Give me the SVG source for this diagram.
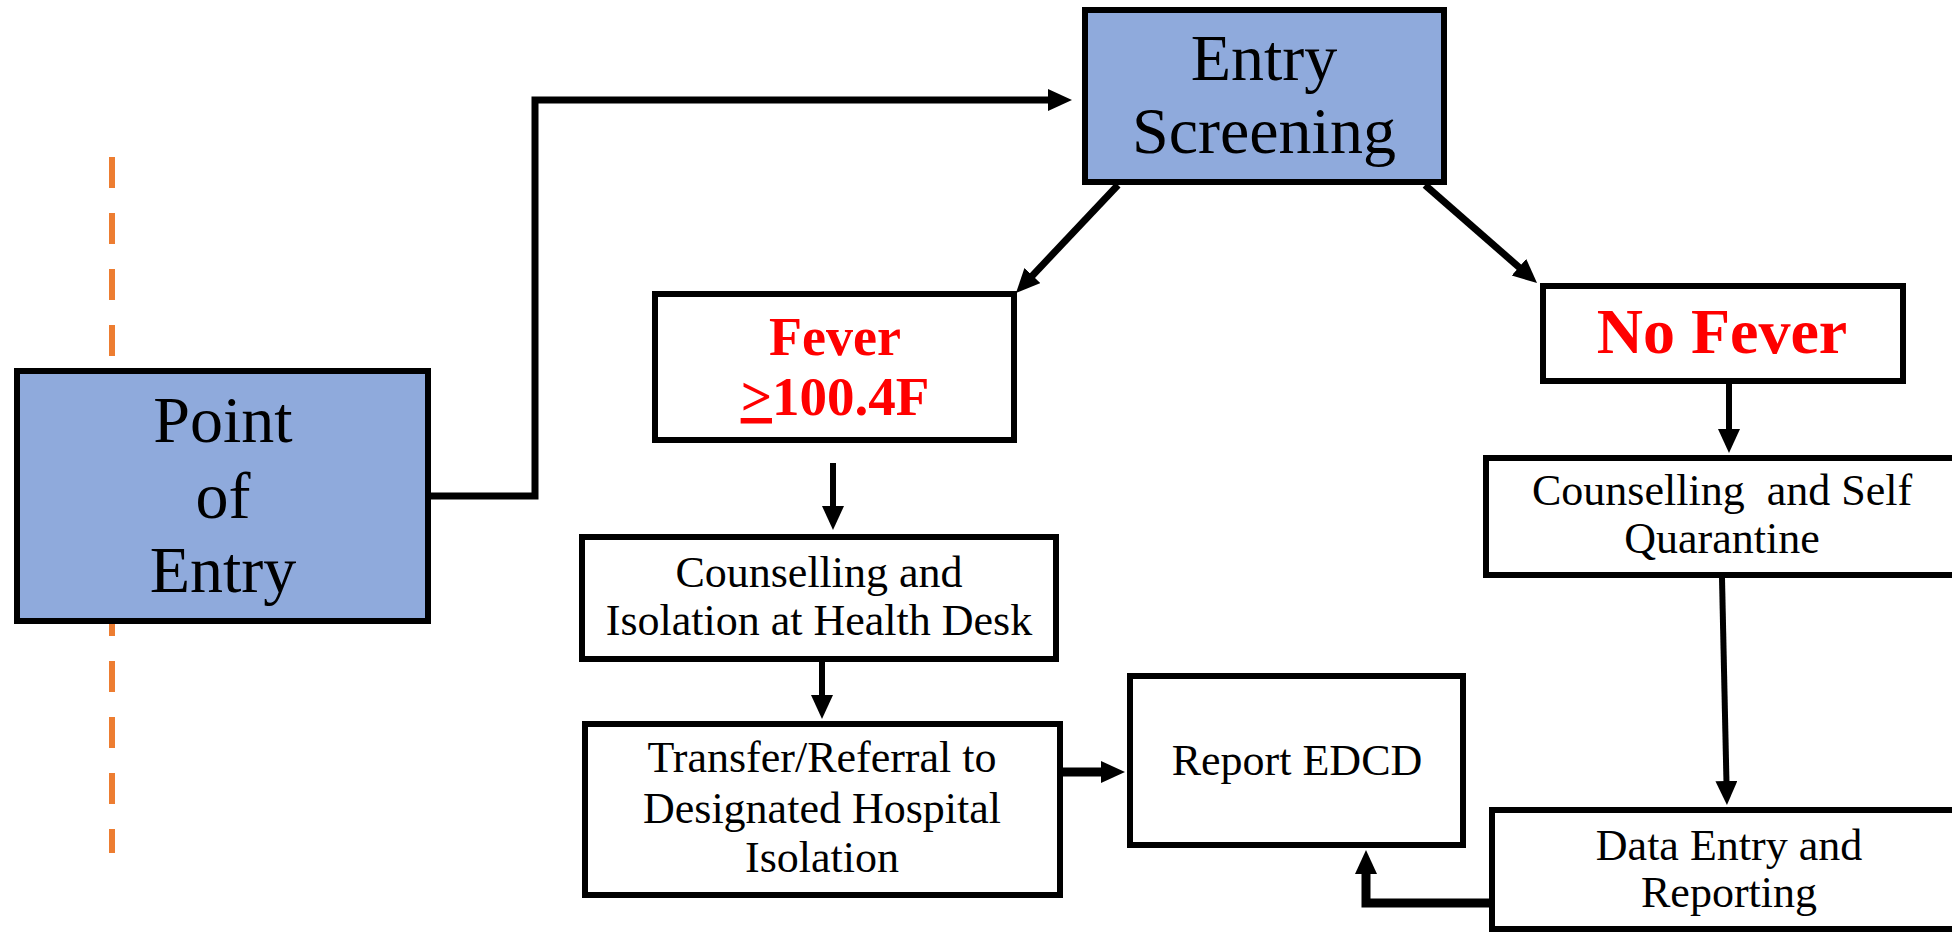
<svg xmlns="http://www.w3.org/2000/svg" width="1952" height="932" viewBox="0 0 1952 932">
<defs>
<style>
.box{fill:#ffffff;stroke:#000;stroke-width:6}
.blue{fill:#8faadc;stroke:#000;stroke-width:6}
.t{font-family:"Liberation Serif","Times New Roman",serif;fill:#000;text-anchor:middle}
.big{font-size:66px}
.sm{font-size:44px}
.red{font-family:"Liberation Serif","Times New Roman",serif;font-weight:bold;fill:#ff0000;text-anchor:middle}
.con{fill:none;stroke:#000;stroke-width:7}
.thin{fill:none;stroke:#000;stroke-width:6}
.thick{fill:none;stroke:#000;stroke-width:9}
</style>
<marker id="ah" markerUnits="userSpaceOnUse" markerWidth="26" markerHeight="24" refX="12" refY="11" orient="auto">
<path d="M0,0 L24,11 L0,22 z" fill="#000"/>
</marker>
</defs>
<rect width="1952" height="932" fill="#fff"/>
<line x1="112" y1="157" x2="112" y2="853" stroke="#ed7d31" stroke-width="6" stroke-dasharray="31 25"/>
<g id="connectors">
<path class="con" d="M431,496 H535 V100 H1060" marker-end="url(#ah)"/>
<line class="con" x1="1118" y1="185" x2="1024.2" y2="284.3" marker-end="url(#ah)"/>
<line class="con" x1="1425" y1="185" x2="1528" y2="275.1" marker-end="url(#ah)"/>
<line class="thin" x1="833" y1="463" x2="833" y2="518" marker-end="url(#ah)"/>
<line class="thin" x1="822" y1="662" x2="822" y2="707" marker-end="url(#ah)"/>
<line class="thin" x1="1729" y1="384" x2="1729" y2="441" marker-end="url(#ah)"/>
<line class="thin" x1="1722" y1="578" x2="1726.7" y2="793" marker-end="url(#ah)"/>
<line class="thick" x1="1063" y1="772" x2="1113" y2="772" marker-end="url(#ah)"/>
<path class="thick" d="M1489,903 H1366 V862" marker-end="url(#ah)"/>
</g>
<g id="point-of-entry">
<rect class="blue" x="17" y="371" width="411" height="250"/>
<text class="t big" x="223" y="442">Point</text>
<text class="t big" x="223" y="518">of</text>
<text class="t big" x="223" y="592">Entry</text>
</g>
<g id="entry-screening">
<rect class="blue" x="1085" y="10" width="359" height="172"/>
<text class="t big" x="1264" y="80">Entry</text>
<text class="t big" x="1264" y="153">Screening</text>
</g>
<g id="fever">
<rect class="box" x="655" y="294" width="359" height="146"/>
<text class="red" font-size="54" x="835" y="355">Fever</text>
<text class="red" font-size="55" x="835" y="415"><tspan style="text-decoration:underline">&gt;</tspan>100.4F</text>
</g>
<g id="no-fever">
<rect class="box" x="1543" y="286" width="360" height="95"/>
<text class="red" font-size="64" x="1722" y="353">No Fever</text>
</g>
<g id="counselling-self-quarantine">
<rect class="box" x="1486" y="458" width="480" height="117"/>
<text class="t sm" x="1722" y="505">Counselling&#160; and Self</text>
<text class="t sm" x="1722" y="553">Quarantine</text>
</g>
<g id="counselling-isolation">
<rect class="box" x="582" y="537" width="474" height="122"/>
<text class="t sm" x="819" y="587">Counselling and</text>
<text class="t sm" x="819" y="635">Isolation at Health Desk</text>
</g>
<g id="transfer-referral">
<rect class="box" x="585" y="724" width="475" height="171"/>
<text class="t sm" x="822" y="772">Transfer/Referral to</text>
<text class="t sm" x="822" y="823">Designated Hospital</text>
<text class="t sm" x="822" y="872">Isolation</text>
</g>
<g id="report-edcd">
<rect class="box" x="1130" y="676" width="333" height="169"/>
<text class="t sm" x="1297" y="775">Report EDCD</text>
</g>
<g id="data-entry">
<rect class="box" x="1492" y="810" width="480" height="119"/>
<text class="t sm" x="1729" y="860">Data Entry and</text>
<text class="t sm" x="1729" y="907">Reporting</text>
</g>
</svg>
